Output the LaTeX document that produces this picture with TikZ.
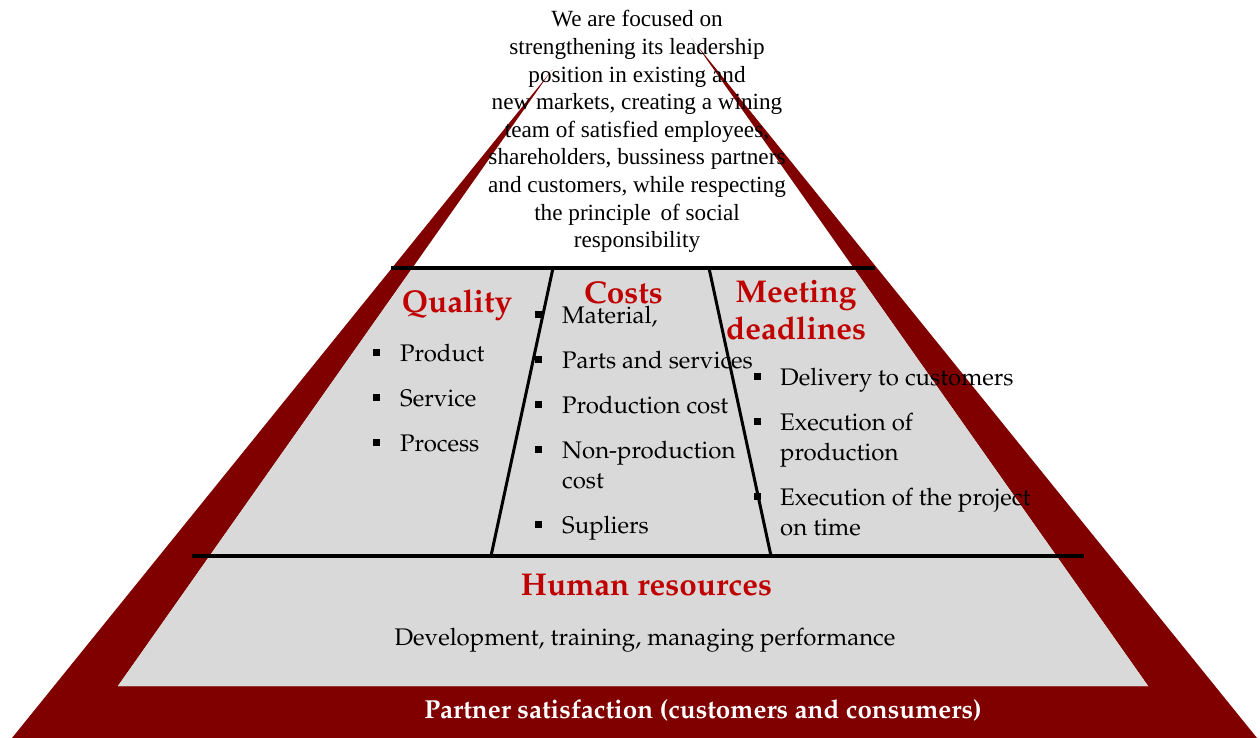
\documentclass[tikz,border=0pt]{standalone}
\usepackage[T1,TU]{fontenc}
\usepackage{fontspec}
\newfontfamily\tnr{Liberation Serif}
\newcommand\pal{\fontencoding{T1}\fontfamily{ppl}\selectfont}
\definecolor{pyr}{HTML}{800000}
\definecolor{hdred}{HTML}{C00000}
\definecolor{lgray}{HTML}{D9D9D9}
\tikzset{
  hd/.style={font=\pal\fontsize{31.5}{36}\selectfont\bfseries, text=hdred, inner sep=0pt, anchor=base},
  itm/.style={font=\pal\fontsize{24}{30}\selectfont, inner sep=0pt, anchor=base west},
  bul/.style={rectangle, fill=black, draw=none, minimum size=7pt, inner sep=0pt},
  toptxt/.style={font=\tnr\fontsize{23.2}{27.6}\selectfont, inner sep=0pt, anchor=base},
  sep/.style={line width=4pt, black},
  div/.style={line width=3pt, black},
}
\newcommand\bitem[5]{\node[bul] (#1b) at (#2,#4-9) {}; \node[itm] (#1) at (#3,#4) {#5};}
\begin{document}
\begin{tikzpicture}[x=1pt,y=-1pt]
\useasboundingbox (0,0) rectangle (1260,738);
\clip (0,0) rectangle (1260,738);
% pyramid
\fill[pyr] (12,738) -- (634.5,-32) -- (1257,738) -- cycle;
\fill[white] (118,686) -- (633,-45) -- (1148,686) -- cycle;
\begin{scope}
  \clip (0,268) rectangle (1260,686);
  \fill[lgray] (118,686) -- (633,-45) -- (1148,686) -- cycle;
\end{scope}
% separators
\coordinate (tl) at (391,268); \coordinate (tr) at (875,268);
\coordinate (bl) at (192,556); \coordinate (br) at (1084,556);
\draw[sep] (tl) -- (tr);
\draw[sep] (bl) -- (br);
\coordinate (d1t) at (553,268); \coordinate (d1b) at (491,556);
\coordinate (d2t) at (709,268); \coordinate (d2b) at (771,556);
\draw[div] (d1t) -- (d1b);
\draw[div] (d2t) -- (d2b);
% top text
\node[toptxt] (t1) at (637,27) {We are focused on};
\node[toptxt] (t2) at (637,54.6) {strengthening its leadership};
\node[toptxt] (t3) at (637,82.2) {position in existing and};
\node[toptxt] (t4) at (637,109.8) {new markets, creating a wining};
\node[toptxt] (t5) at (637,137.4) {team of satisfied employees,};
\node[toptxt] (t6) at (637,165) {shareholders, bussiness partners};
\node[toptxt] (t7) at (637,192.6) {and customers, while respecting};
\node[toptxt] (t8) at (637,220.2) {the principle\, of social};
\node[toptxt] (t9) at (637,247.8) {responsibility};
% headings
\node[hd] (quality) at (457,312) {Quality};
\node[hd] (costs) at (623.5,303) {Costs};
\node[hd] (meet1) at (796,302) {Meeting};
\node[hd] (meet2) at (796,339) {deadlines};
% quality items
\bitem{q1}{376}{400}{361}{Product}
\bitem{q2}{376}{400}{406}{Service}
\bitem{q3}{376}{400}{451}{Process}
% cost items
\bitem{c1}{538}{562}{323}{Material,}
\bitem{c2}{538}{562}{368}{Parts and services}
\bitem{c3}{538}{562}{413}{Production cost}
\bitem{c4}{538}{562}{458}{Non-production}
\node[itm] (c4b2) at (562,488) {cost};
\bitem{c5}{538}{562}{533}{Supliers}
% deadline items
\bitem{m1}{757}{780}{385}{Delivery to customers}
\bitem{m2}{757}{780}{430}{Execution of}
\node[itm] (m2b2) at (780,460) {production};
\bitem{m3}{757}{780}{505}{Execution of the project}
\node[itm] (m3b2) at (780,535) {on time};
% human resources
\node[hd] (hr) at (646.5,595) {Human resources};
\node[itm, anchor=base] (dev) at (645,645) {Development, training, managing performance};
\node[inner sep=0pt, anchor=base, text=white, font=\pal\fontsize{26}{30}\selectfont\bfseries] (partner) at (703,718) {Partner satisfaction (customers and consumers)};
\end{tikzpicture}
\end{document}
